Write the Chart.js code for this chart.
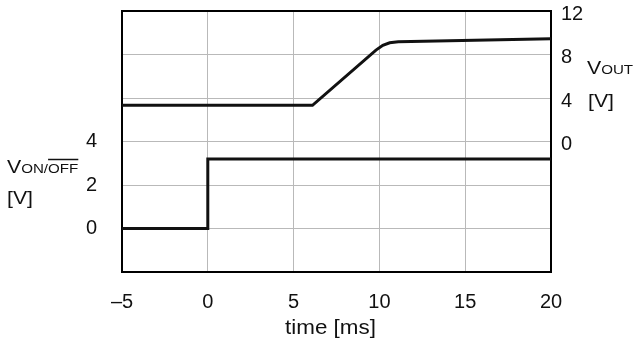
<!DOCTYPE html>
<html>
<head>
<meta charset="utf-8">
<script src="https://cdn.jsdelivr.net/npm/chart.js@4.4.0/dist/chart.umd.min.js"></script>
<style>
  html, body { margin: 0; padding: 0; background: #fff; }
  #wrap { width: 636px; height: 344px; }
</style>
</head>
<body>
<div id="wrap"><canvas id="chart"></canvas></div>
<script>
// data
const timeTicks = [-5, 0, 5, 10, 15, 20];
const onOffTicks = [0, 2, 4];
const outTicks = [0, 4, 8, 12];

const onOffTime = [-5, 0, 0, 20];
const onOffVolts = [0, 0, 3.2, 3.2];

const outTime = [-5, 6.1, 9.8, 10.2, 10.6, 11.1, 20];
const outVolts = [3.33, 3.33, 8.4, 8.85, 9.08, 9.17, 9.45];

const FONT = "'Liberation Sans', Arial, sans-serif";
const INK = "#111";
const WIDE = 1.12; // captions in the original are a bit wider than Arial

const toPoints = (xs, ys) => xs.map((x, i) => ({ x: x, y: ys[i] }));

// draws text stretched sideways, returns the drawn width
function wideText(ctx, text, x, y, size, align) {
  ctx.save();
  ctx.font = size + "px " + FONT;
  ctx.textAlign = align || "left";
  ctx.translate(x, y);
  ctx.scale(WIDE, 1);
  ctx.fillText(text, 0, 0);
  const w = ctx.measureText(text).width * WIDE;
  ctx.restore();
  return w;
}

// frame round the plot + captions with subscripts
const frameAndCaptions = {
  id: "frameAndCaptions",
  beforeDatasetsDraw(chart) {
    const { ctx, chartArea: a } = chart;
    ctx.save();
    ctx.strokeStyle = "#000";
    ctx.lineWidth = 2;
    ctx.strokeRect(a.left, a.top, a.right - a.left, a.bottom - a.top);
    ctx.restore();
  },
  afterDraw(chart) {
    const ctx = chart.ctx;
    ctx.save();
    ctx.fillStyle = INK;
    ctx.strokeStyle = INK;
    ctx.textBaseline = "alphabetic";

    // left caption: V ON/OFF, OFF overlined
    let x = 7;
    x += wideText(ctx, "V", x, 173, 19);
    x += wideText(ctx, "ON/", x, 173, 13.5);
    const offW = wideText(ctx, "OFF", x, 173, 13.5);
    ctx.lineWidth = 1.5;
    ctx.beginPath();
    ctx.moveTo(x, 159.5);
    ctx.lineTo(x + offW, 159.5);
    ctx.stroke();
    wideText(ctx, "[V]", 7, 204, 19);

    // right caption: V OUT
    x = 587;
    x += wideText(ctx, "V", x, 74, 19);
    wideText(ctx, "OUT", x, 74, 13.5);
    wideText(ctx, "[V]", 588, 107, 19);

    // x axis title
    const a = chart.chartArea;
    wideText(ctx, "time [ms]", (a.left + a.right) / 2 - 6, 334, 20, "center");
    ctx.restore();
  }
};

const fitVertical = (w) => (s) => {
  s.width = w;
  s.paddingTop = 0;
  s.paddingBottom = 0;
};

new Chart(document.getElementById("chart"), {
  type: "line",
  data: {
    datasets: [
      {
        label: "VON/OFF",
        data: toPoints(onOffTime, onOffVolts),
        yAxisID: "yOnOff",
        borderColor: INK,
        borderWidth: 3,
        pointRadius: 0,
        tension: 0
      },
      {
        label: "VOUT",
        data: toPoints(outTime, outVolts),
        yAxisID: "yOut",
        borderColor: INK,
        borderWidth: 3,
        pointRadius: 0,
        tension: 0
      }
    ]
  },
  options: {
    responsive: true,
    maintainAspectRatio: false,
    animation: false,
    layout: { padding: { top: 11, left: 0, right: 0, bottom: 0 } },
    plugins: {
      legend: { display: false },
      tooltip: { enabled: false }
    },
    scales: {
      x: {
        type: "linear",
        min: timeTicks[0],
        max: timeTicks[timeTicks.length - 1],
        afterBuildTicks: (s) => { s.ticks = timeTicks.map(v => ({ value: v })); },
        afterFit: (s) => { s.height = 72; s.paddingLeft = 0; s.paddingRight = 0; },
        ticks: {
          padding: 18,
          color: INK,
          font: { family: FONT, size: 20 },
          callback: (v) => (v < 0 ? "\u2013" + Math.abs(v) : String(v))
        },
        grid: { color: "#b9b9b9", lineWidth: 1, drawTicks: false },
        border: { display: false }
      },
      yOnOff: {
        position: "left",
        min: -2,
        max: 10,
        afterFit: fitVertical(122),
        ticks: {
          stepSize: 2,
          padding: 25,
          color: INK,
          font: { family: FONT, size: 20 },
          callback: (v) => (onOffTicks.includes(v) ? String(v) : "")
        },
        grid: { color: "#b9b9b9", lineWidth: 1, drawTicks: false },
        border: { display: false }
      },
      yOut: {
        position: "right",
        min: -12,
        max: 12,
        afterFit: fitVertical(85),
        ticks: {
          stepSize: 4,
          padding: 10,
          labelOffset: 3,
          color: INK,
          font: { family: FONT, size: 20 },
          callback: (v) => (outTicks.includes(v) ? String(v) : "")
        },
        grid: { display: false, drawTicks: false },
        border: { display: false }
      }
    }
  },
  plugins: [frameAndCaptions]
});
</script>
</body>
</html>
